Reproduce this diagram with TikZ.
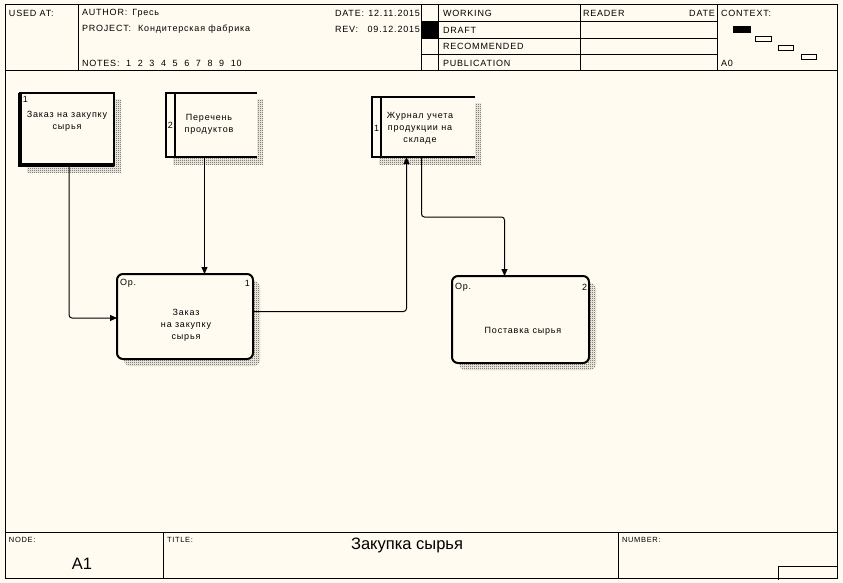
\documentclass[tikz,border=0pt]{standalone}
\usepackage{fontspec}
\setmainfont{Liberation Sans}[LetterSpace=9]
\newfontfamily\plainsans{Liberation Sans}
\usetikzlibrary{arrows.meta,patterns,positioning}
\definecolor{paper}{RGB}{255,251,240}
\pgfdeclarepatternformonly{checker}{\pgfpointorigin}{\pgfqpoint{2pt}{2pt}}{\pgfqpoint{2pt}{2pt}}{%
    \pgfpathrectangle{\pgfpointorigin}{\pgfqpoint{1pt}{1pt}}%
    \pgfpathrectangle{\pgfqpoint{1pt}{1pt}}{\pgfqpoint{1pt}{1pt}}%
    \pgfusepath{fill}}

\begin{document}
\begin{tikzpicture}[x=1pt, y=-1pt,
    every node/.style={font=\fontsize{9}{12}\selectfont, inner sep=0pt, outer sep=0pt},
    lbl/.style={anchor=west},
    small/.style={anchor=west, font=\fontsize{7.5}{9}\selectfont},
    frame/.style={line width=1pt},
    extbox/.style={rectangle, draw, line width=2pt, fill=paper, anchor=north west},
    store/.style={rectangle, fill=paper, anchor=north west},
    proc/.style={rectangle, draw, line width=2pt, rounded corners=6pt, fill=paper, anchor=north west},
    shade/.style={pattern=checker, pattern color=black!75},
    flow/.style={-{Triangle[length=7pt,width=6pt]}, line width=1pt, rounded corners=3pt}
]
    \useasboundingbox (0,0) rectangle (843,583);
    \fill[paper] (0,0) rectangle (843,583);

    % frame of the form
    \draw[frame] (5,5) rectangle (837,578);
    \draw[frame] (5,71) -- (837,71) (5,532) -- (837,532);
    \foreach \x in {78,421,438,580,717}
        \draw[frame] (\x,5) -- (\x,71);
    \foreach \y in {22,39,55}
        \draw[frame] (421,\y) -- (717,\y);
    \fill (421,22) rectangle (438,39);
    \draw[frame] (163,532) -- (163,578) (618,532) -- (618,578);
    \draw[frame] (778,580) -- (778,566) -- (837,566);

    % context
    \fill (733,26) rectangle (751,33);
    \draw[line width=1pt] (755,37) rectangle (771,42) (778,46) rectangle (793,51) (801,55) rectangle (816,60);

    % header texts
    \node[lbl] (usedat) at (9,13) {USED AT:};
    \node[lbl] (author) at (82,13) {AUTHOR:\hspace{5pt}Гресь};
    \node[lbl] (project) at (82,29) {PROJECT:\hspace{7pt}Кондитерская фабрика};
    \node[lbl] (notes) at (82,63) {NOTES:\ \ 1\ \ 2\ \ 3\ \ 4\ \ 5\ \ 6\ \ 7\ \ 8\ \ 9\ \ 10};
    \node[lbl] (datelbl) at (335,13) {DATE:};
    \node[anchor=east] (dateval) at (420,13) {12.11.2015};
    \node[lbl] (revlbl) at (335,29) {REV:};
    \node[anchor=east] (revval) at (420,29) {09.12.2015};
    \node[lbl] (working) at (443,13) {WORKING};
    \node[lbl] (draft) at (443,30) {DRAFT};
    \node[lbl] (recommended) at (443,46) {RECOMMENDED};
    \node[lbl] (publication) at (443,63) {PUBLICATION};
    \node[lbl] (reader) at (583,13) {READER};
    \node[anchor=east] (rdate) at (715,13) {DATE};
    \node[lbl] (context) at (721,13) {CONTEXT:};
    \node[lbl] (ctxnode) at (721,63) {A0};

    % footer texts
    \node[small] (nodelbl) at (9,540) {NODE:};
    \node[small] (titlelbl) at (167,540) {TITLE:};
    \node[small] (numberlbl) at (622,540) {NUMBER:};
    \node[font=\plainsans\fontsize{16.5}{18}\selectfont] (nodeno) at (82,564) {A1};
    \node[font=\plainsans\fontsize{16.5}{18}\selectfont] (title) at (407,545) {Закупка сырья};

    % shadows
    \fill[shade] (27,100) rectangle (121,172);
    \fill[shade] (173,100) rectangle (263,164);
    \fill[shade] (379,104) rectangle (481,164);
    \fill[shade, rounded corners=6pt] (124,281) rectangle (260,366);
    \fill[shade, rounded corners=6pt] (459,283) rectangle (596,370);

    % external reference
    \node[extbox, minimum width=94, minimum height=72] (order) at (20,93) {};
    \draw[line width=4pt] (order.north west) -- (order.south west) -- (order.south east);
    \node[anchor=north west] (orderno) at (23,96) {1};
    \node[align=center] (ordername) at (67,121) {Заказ на закупку\\сырья};

    % data stores
    \node[store, minimum width=91, minimum height=64] (products) at (166,93) {};
    \draw[line width=2pt] (products.north east) -- (products.north west) -- (products.south west) -- (products.south east);
    \draw[line width=2pt] ([xshift=9]products.north west) -- ([xshift=9]products.south west);
    \node (productsno) at (170.5,125) {2};
    \node[align=center] (productsname) at (209,124) {Перечень\\продуктов};

    \node[store, minimum width=103, minimum height=60] (journal) at (372,97) {};
    \draw[line width=2pt] (journal.north east) -- (journal.north west) -- (journal.south west) -- (journal.south east);
    \draw[line width=2pt] ([xshift=9]journal.north west) -- ([xshift=9]journal.south west);
    \node (journalno) at (376.5,128) {1};
    \node[align=center] (journalname) at (420,128) {Журнал учета\\продукции на\\складе};

    % processes
    \node[proc, minimum width=136, minimum height=85] (ordering) at (117,274) {};
    \node[anchor=west] (orderingop) at (120,283) {Op.};
    \node[anchor=east] (orderingno) at (250,283) {1};
    \node[align=center] (orderingname) at (186,325) {Заказ\\на закупку\\сырья};

    \node[proc, minimum width=137, minimum height=87] (supply) at (452,276) {};
    \node[anchor=west] (supplyop) at (455,287) {Op.};
    \node[anchor=east] (supplyno) at (587,287) {2};
    \node (supplyname) at (523,331) {Поставка сырья};

    % flows
    \draw[flow] ([xshift=2]order.south) |- ([yshift=-1.5]ordering.west);
    \draw[flow] ([xshift=-7]products.south) -- ([xshift=-7]products.south |- ordering.north);
    \draw[flow] ([yshift=5]ordering.east) -| ([xshift=-17]journal.south);
    \draw[flow] ([xshift=-2]journal.south) -- ++(0,60) -| ([xshift=-16]supply.north);
\end{tikzpicture}
\end{document}
